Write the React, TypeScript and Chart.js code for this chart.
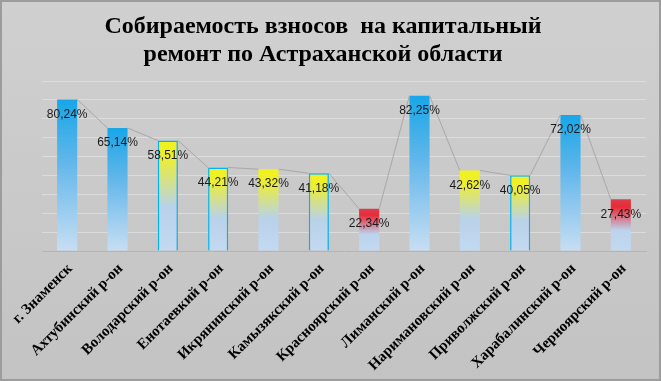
import React, { useEffect, useRef } from "react";
import { Chart, registerables } from "chart.js";

Chart.register(...registerables);

const categories = [
  "г. Знаменск",
  "Ахтубинский р-он",
  "Володарский р-он",
  "Енотаевкий р-он",
  "Икрянинский р-он",
  "Камызякский р-он",
  "Красноярский р-он",
  "Лиманский р-он",
  "Наримановский р-он",
  "Приволжский р-он",
  "Харабалинский р-он",
  "Черноярский р-он",
];

const values = [80.24, 65.14, 58.51, 44.21, 43.32, 41.18, 22.34, 82.25, 42.62, 40.05, 72.02, 27.43];
const valueLabels = ["80,24%", "65,14%", "58,51%", "44,21%", "43,32%", "41,18%", "22,34%", "82,25%", "42,62%", "40,05%", "72,02%", "27,43%"];
// b = blue, y = yellow, r = red
const colorKinds = ["b", "b", "y", "y", "y", "y", "r", "b", "y", "y", "b", "r"];
const hasBorder = [false, false, true, true, false, true, false, false, false, true, false, false];

const titleLines = ["Собираемость взносов  на капитальный", "ремонт по Астраханской области"];

const bgPlugin = {
  id: "bgPlugin",
  beforeDraw(chart: any) {
    const { ctx, width, height } = chart;
    ctx.save();
    const g = ctx.createLinearGradient(0, 0, 0, height);
    g.addColorStop(0, "#d0d0d0");
    g.addColorStop(1, "#c3c3c3");
    ctx.fillStyle = g;
    ctx.fillRect(0, 0, width, height);
    ctx.strokeStyle = "#9c9c9c";
    ctx.lineWidth = 2;
    ctx.strokeRect(1, 1, width - 2, height - 2);
    ctx.restore();
  },
};

const seriesLinesPlugin = {
  id: "seriesLines",
  afterDatasetsDraw(chart: any) {
    const meta = chart.getDatasetMeta(0);
    const ctx = chart.ctx;
    ctx.save();
    ctx.strokeStyle = "#a8a8a8";
    ctx.lineWidth = 1;
    for (let i = 0; i < meta.data.length - 1; i++) {
      const a = meta.data[i];
      const b = meta.data[i + 1];
      ctx.beginPath();
      ctx.moveTo(a.x + a.width / 2, a.y);
      ctx.lineTo(b.x - b.width / 2, b.y);
      ctx.stroke();
    }
    ctx.restore();
  },
};

const labelsPlugin = {
  id: "valueLabels",
  afterDatasetsDraw(chart: any) {
    const meta = chart.getDatasetMeta(0);
    const ctx = chart.ctx;
    ctx.save();
    ctx.font = "12px 'Liberation Sans', Arial, sans-serif";
    ctx.fillStyle = "#1a1a1a";
    ctx.textAlign = "center";
    ctx.textBaseline = "middle";
    meta.data.forEach((el: any, i: number) => {
      ctx.fillText(valueLabels[i], el.x, el.y + 15);
    });
    ctx.restore();
  },
};

function barFill(context: any) {
  const chart = context.chart;
  const i = context.dataIndex;
  const yScale = chart.scales.y;
  if (!yScale || values[i] === undefined) return "#1ea9e8";
  const top = yScale.getPixelForValue(values[i]);
  const bottom = yScale.getPixelForValue(0);
  if (!isFinite(top) || !isFinite(bottom) || bottom - top < 1) return "#1ea9e8";
  const g = chart.ctx.createLinearGradient(0, top, 0, bottom);
  const kind = colorKinds[i];
  if (kind === "b") {
    g.addColorStop(0, "#18a6e8");
    g.addColorStop(0.4, "#5fb6ea");
    g.addColorStop(1, "#c8def3");
  } else if (kind === "y") {
    g.addColorStop(0, "#f2f21c");
    g.addColorStop(0.15, "#eeee30");
    g.addColorStop(0.6, "#b8d2ea");
    g.addColorStop(1, "#c2d9f1");
  } else {
    g.addColorStop(0, "#d8404c");
    g.addColorStop(0.15, "#ea2a36");
    g.addColorStop(0.6, "#bcd3ec");
    g.addColorStop(1, "#c2d9f1");
  }
  return g;
}

export default function App() {
  const ref = useRef<HTMLCanvasElement>(null);
  useEffect(() => {
    const canvas = ref.current;
    if (!canvas) return;
    const chart = new Chart(canvas, {
      type: "bar",
      data: {
        labels: categories,
        datasets: [
          {
            data: values,
            backgroundColor: barFill as any,
            borderColor: hasBorder.map((b) => (b ? "#00b4f0" : "rgba(0,0,0,0)")),
            borderWidth: hasBorder.map((b) => (b ? 1.5 : 0)),
            barPercentage: 0.4,
            categoryPercentage: 1,
          },
        ],
      },
      plugins: [bgPlugin, seriesLinesPlugin, labelsPlugin],
      options: {
        animation: false,
        responsive: false,
        devicePixelRatio: 1,
        layout: { padding: { top: 0, left: 0, right: 15, bottom: 0 } },
        plugins: {
          legend: { display: false },
          tooltip: { enabled: false },
          title: {
            display: true,
            text: titleLines,
            color: "#000",
            font: { family: "'Liberation Serif', 'Times New Roman', serif", size: 24, weight: "bold", lineHeight: 28 / 24 },
            padding: { top: 13, bottom: 12 },
          },
        },
        scales: {
          x: {
            grid: { display: false, drawTicks: false },
            border: { display: true, color: "#b4b4b4" },
            ticks: {
              minRotation: 45,
              maxRotation: 45,
              autoSkip: false,
              color: "#000",
              padding: 9,
              labelOffset: 3,
              font: { family: "'Liberation Serif', 'Times New Roman', serif", size: 15, weight: "bold" },
            },
            afterFit(scale: any) {
              scale.height = 130;
            },
          },
          y: {
            min: 0,
            max: 90,
            ticks: { display: false, stepSize: 10 },
            grid: { color: "#dcdcdc", lineWidth: 1, drawTicks: false },
            border: { display: false },
            afterFit(scale: any) {
              scale.width = 42;
            },
          },
        },
      },
    });
    return () => chart.destroy();
  }, []);
  return (
    <div style={{ position: "fixed", left: 0, top: 0, width: 661, height: 381 }}>
      <canvas ref={ref} width={661} height={381} style={{ display: "block", width: 661, height: 381 }} />
    </div>
  );
}
